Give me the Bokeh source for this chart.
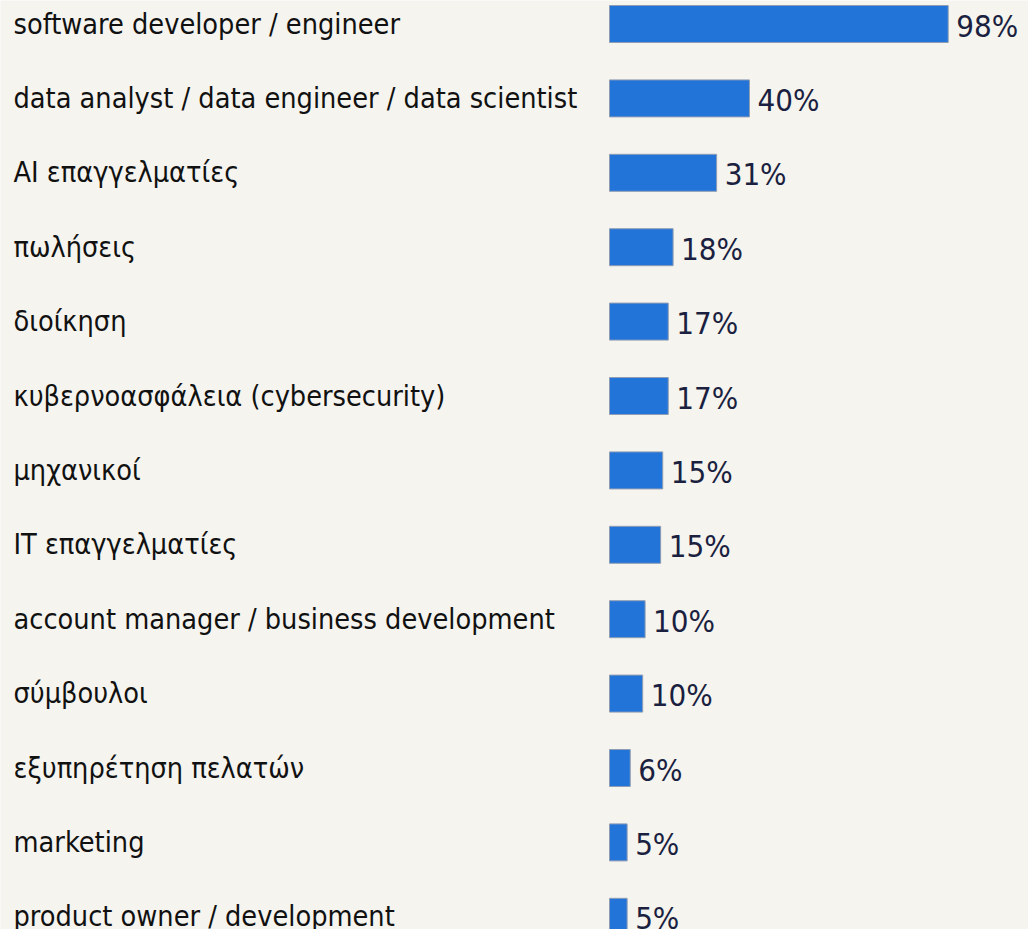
from bokeh.plotting import figure
from bokeh.models import ColumnDataSource, Range1d
from bokeh.core.properties import value
from bokeh.embed import file_html
from bokeh.resources import INLINE

categories = [
    "software developer / engineer",
    "data analyst / data engineer / data scientist",
    "AI επαγγελματίες",
    "πωλήσεις",
    "διοίκηση",
    "κυβερνοασφάλεια (cybersecurity)",
    "μηχανικοί",
    "IT επαγγελματίες",
    "account manager / business development",
    "σύμβουλοι",
    "εξυπηρέτηση πελατών",
    "marketing",
    "product owner / development",
]
values = [98.0, 40.5, 31.0, 18.4, 17.0, 17.0, 15.4, 14.8, 10.3, 9.6, 6.0, 5.1, 5.1]
value_labels = ["98%", "40%", "31%", "18%", "17%", "17%", "15%", "15%", "10%", "10%", "6%", "5%", "5%"]

BG = "#f5f4ef"
BAR = "#2374d8"
FONT = "DejaVu Sans Condensed, DejaVu Sans"

W, H = 1028, 929
px_per_unit = 3.456
zero_px = 609
row_px = 74.4
first_row_px = 23.5

x_start = -zero_px / px_per_unit
x_end = (W - zero_px) / px_per_unit
y_top = -first_row_px / row_px
y_bottom = (H - first_row_px) / row_px

idx = list(range(len(categories)))
src = ColumnDataSource(dict(
    y=idx,
    val=values,
    cat=categories,
    lab=value_labels,
    lx=[x_start] * len(idx),
))

p = figure(width=W, height=H, output_backend="svg", toolbar_location=None,
           x_range=Range1d(x_start, x_end), y_range=Range1d(y_bottom, y_top),
           min_border=0, outline_line_color=None,
           background_fill_color=BG, border_fill_color=BG)
p.axis.visible = False
p.grid.visible = False

p.hbar(y="y", left=0, right="val", height=37 / row_px, source=src,
       fill_color=BAR, line_color="#8f9db3", line_width=1)

p.text(x="lx", y="y", text="cat", source=src, x_offset=13, y_offset=-0.5,
       text_font=value(FONT), text_font_size="28.6px", text_color="#111111",
       text_baseline="alphabetic", text_align="left")

p.text(x="val", y="y", text="lab", source=src, x_offset=8, y_offset=1.5,
       text_font=value(FONT), text_font_size="31px", text_color="#1b1f40",
       text_baseline="alphabetic", text_align="left")

open("out.html", "w").write(file_html(p, INLINE))
